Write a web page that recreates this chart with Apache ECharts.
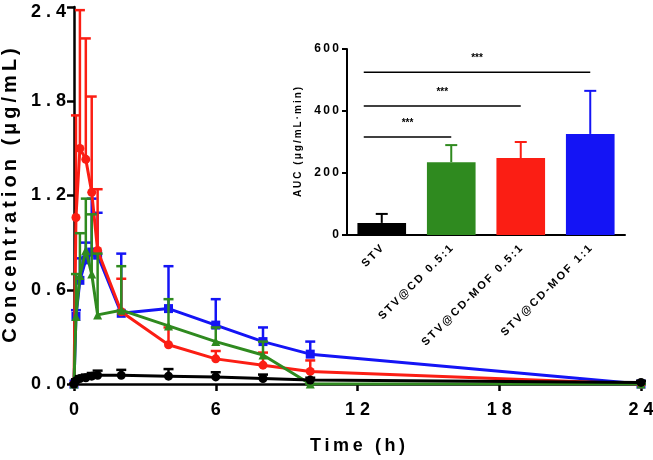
<!DOCTYPE html>
<html>
<head>
<meta charset="utf-8">
<script src="https://cdn.jsdelivr.net/npm/echarts@6/dist/echarts.min.js"></script>
<style>
  html, body { margin: 0; padding: 0; background: #fff; }
  #main { width: 653px; height: 460px; }
</style>
</head>
<body>
<div id="main"></div>
<script>
// sampling times (h)
var times = [0, 0.083, 0.25, 0.5, 0.75, 1, 2, 4, 6, 8, 10, 24];

// mean concentrations (ug/mL) and top of the SD bar
var stv      = [0, 0.02, 0.035, 0.04, 0.05, 0.055, 0.055, 0.05, 0.045, 0.035, 0.025, 0.01];
var stvTop   = [0, 0.03, 0.05, 0.06, 0.07, 0.085, 0.09, 0.095, 0.075, 0.06, 0.04, 0.02];
var cd       = [0, 0.43, 0.69, 0.85, 0.70, 0.44, 0.47, 0.37, 0.27, 0.185, 0, 0];
var cdTop    = [0, 0.70, 0.96, 1.18, 1.08, 0.83, 0.75, 0.54, 0.36, 0.27, 0, 0];
var mof05    = [0, 1.06, 1.50, 1.43, 1.22, 0.85, 0.46, 0.25, 0.16, 0.12, 0.08, 0];
var mof05Top = [0, 1.71, 2.38, 2.20, 1.83, 1.24, 0.67, 0.36, 0.21, 0.20, 0.15, 0];
var mof1     = [0, 0.43, 0.66, 0.79, 0.84, 0.82, 0.45, 0.48, 0.375, 0.27, 0.19, 0];
var mof1Top  = [0, 0.47, 0.80, 0.90, 1.18, 1.09, 0.83, 0.75, 0.54, 0.36, 0.27, 0];

// inset AUC bars
var aucGroups = ['STV', 'STV@CD 0.5:1', 'STV@CD-MOF 0.5:1', 'STV@CD-MOF 1:1'];
var aucMean   = [39, 235, 248, 326];
var aucTop    = [68, 290, 300, 465];
var sigLines  = [[1, 316], [2, 416], [3, 525]]; // [end group, level]

var colors = ['#000000', '#2f8a1f', '#fb1e14', '#1414f5'];

function spaced(s, sep) {
    return String(s).split('').join(sep);
}

function pairs(ys, tops) {
    return times.map(function (t, i) { return [t, ys[i], tops[i]]; });
}

function errorBar(ctx, api) {
    var base = api.coord([api.value(0), api.value(1)]);
    var top = api.coord([api.value(0), api.value(2)]);
    var color = api.visual('color');
    var w = 5;
    return {
        type: 'group',
        children: [
            { type: 'line', shape: { x1: base[0], y1: base[1], x2: top[0], y2: top[1] }, style: { stroke: color, lineWidth: 2.5 } },
            { type: 'line', shape: { x1: top[0] - w, y1: top[1], x2: top[0] + w, y2: top[1] }, style: { stroke: color, lineWidth: 2.5 } }
        ]
    };
}

function lineSeries(name, ys, tops, color, symbol, z) {
    return [{
        name: name + ' sd', type: 'custom', renderItem: errorBar,
        xAxisIndex: 0, yAxisIndex: 0, z: z,
        itemStyle: { color: color },
        encode: { x: 0, y: [1, 2] },
        data: pairs(ys, tops)
    }, {
        name: name, type: 'line', xAxisIndex: 0, yAxisIndex: 0, z: z,
        data: pairs(ys, tops).map(function (p) { return [p[0], p[1]]; }),
        symbol: symbol, symbolSize: 9, showSymbol: true,
        lineStyle: { color: color, width: 3 },
        itemStyle: { color: color },
        animation: false
    }];
}

var bold = { fontFamily: 'Liberation Sans', fontWeight: 'bold', color: '#000' };

var chart = echarts.init(document.getElementById('main'));

var option = {
    animation: false,
    grid: [
        { left: 74, right: 12, top: 7, bottom: 76, outerBoundsMode: 'none' },
        { left: 347, right: 28, top: 49, bottom: 225, outerBoundsMode: 'none' }
    ],
    xAxis: [{
        type: 'value', gridIndex: 0, min: 0, max: 24, interval: 6,
        name: spaced('Time (h)', '\u2009'), nameLocation: 'middle', nameGap: 53,
        nameTextStyle: Object.assign({ fontSize: 18 }, bold),
        axisLine: { lineStyle: { color: '#000', width: 2.5 } },
        axisTick: { length: 7, lineStyle: { width: 2.5 } },
        axisLabel: Object.assign({ fontSize: 18, margin: 17, formatter: function (v) { return spaced(v, ' '); } }, bold),
        splitLine: { show: false }
    }, {
        type: 'category', gridIndex: 1, data: aucGroups,
        axisLine: { lineStyle: { color: '#000', width: 2 } },
        axisTick: { alignWithLabel: true, length: 6, lineStyle: { width: 2 } },
        axisLabel: Object.assign({ fontSize: 11, rotate: 45, margin: 12, interval: 0,
            formatter: function (v) { return spaced(v, '\u2009'); } }, bold)
    }],
    yAxis: [{
        type: 'value', gridIndex: 0, min: 0, max: 2.4, interval: 0.6,
        name: spaced('Concentration (\u03bcg/mL)', '\u2009'), nameLocation: 'middle', nameGap: 52,
        nameTextStyle: Object.assign({ fontSize: 20 }, bold),
        axisLine: { show: true, lineStyle: { color: '#000', width: 2.5 } },
        axisTick: { show: true, length: 7, lineStyle: { width: 2.5 } },
        axisLabel: Object.assign({
            fontSize: 18, margin: 8, lineHeight: 11,
            formatter: function (v) {
                var s = spaced(Number(v).toFixed(1), ' ');
                // the top label sits a little lower so it is not cut off
                return Number(v) > 2.3 ? '\n' + s : s;
            }
        }, bold),
        splitLine: { show: false }
    }, {
        type: 'value', gridIndex: 1, min: 0, max: 600, interval: 200,
        name: spaced('AUC (\u03bcg/mL\u00b7min)', '\u2009'), nameLocation: 'middle', nameGap: 44,
        nameTextStyle: Object.assign({ fontSize: 10 }, bold),
        axisLine: { show: true, lineStyle: { color: '#000', width: 2 } },
        axisTick: { show: true, length: 5, lineStyle: { width: 2 } },
        axisLabel: Object.assign({ fontSize: 12, margin: 8, formatter: function (v) { return spaced(v, '\u2009'); } }, bold),
        splitLine: { show: false }
    }],
    series: [].concat(
        lineSeries('STV@CD-MOF 1:1', mof1, mof1Top, colors[3], 'rect', 2),
        lineSeries('STV@CD-MOF 0.5:1', mof05, mof05Top, colors[2], 'circle', 3),
        lineSeries('STV@CD 0.5:1', cd, cdTop, colors[1], 'triangle', 4),
        lineSeries('STV', stv, stvTop, colors[0], 'circle', 5),
        [{
            type: 'bar', xAxisIndex: 1, yAxisIndex: 1, barWidth: '70%', z: 6,
            data: aucMean.map(function (v, i) { return { value: v, itemStyle: { color: colors[i] } }; })
        }, {
            type: 'custom', xAxisIndex: 1, yAxisIndex: 1, z: 5,
            data: aucMean.map(function (v, i) { return [i, v, aucTop[i]]; }),
            encode: { x: 0, y: [1, 2] },
            renderItem: function (ctx, api) {
                var i = api.value(0);
                var base = api.coord([i, api.value(1)]);
                var top = api.coord([i, api.value(2)]);
                var c = colors[i];
                return { type: 'group', children: [
                    { type: 'line', shape: { x1: base[0], y1: base[1], x2: top[0], y2: top[1] }, style: { stroke: c, lineWidth: 2 } },
                    { type: 'line', shape: { x1: top[0] - 6, y1: top[1], x2: top[0] + 6, y2: top[1] }, style: { stroke: c, lineWidth: 2 } }
                ] };
            }
        }, {
            type: 'custom', xAxisIndex: 1, yAxisIndex: 1, z: 5,
            data: sigLines,
            encode: { x: 0, y: 1 },
            renderItem: function (ctx, api) {
                var end = api.coord([api.value(0), api.value(1)]);
                var x0 = api.coord([0, api.value(1)])[0] - 18;
                var mid = (x0 + end[0]) / 2;
                return { type: 'group', children: [
                    { type: 'line', shape: { x1: x0, y1: end[1], x2: end[0], y2: end[1] }, style: { stroke: '#000', lineWidth: 1.5 } },
                    { type: 'text', x: mid, y: end[1] - 14, style: { text: '***', fill: '#000', font: 'bold 10px Liberation Sans', align: 'center', verticalAlign: 'middle' } }
                ] };
            }
        }]
    )
};

chart.setOption(option);
</script>
</body>
</html>
